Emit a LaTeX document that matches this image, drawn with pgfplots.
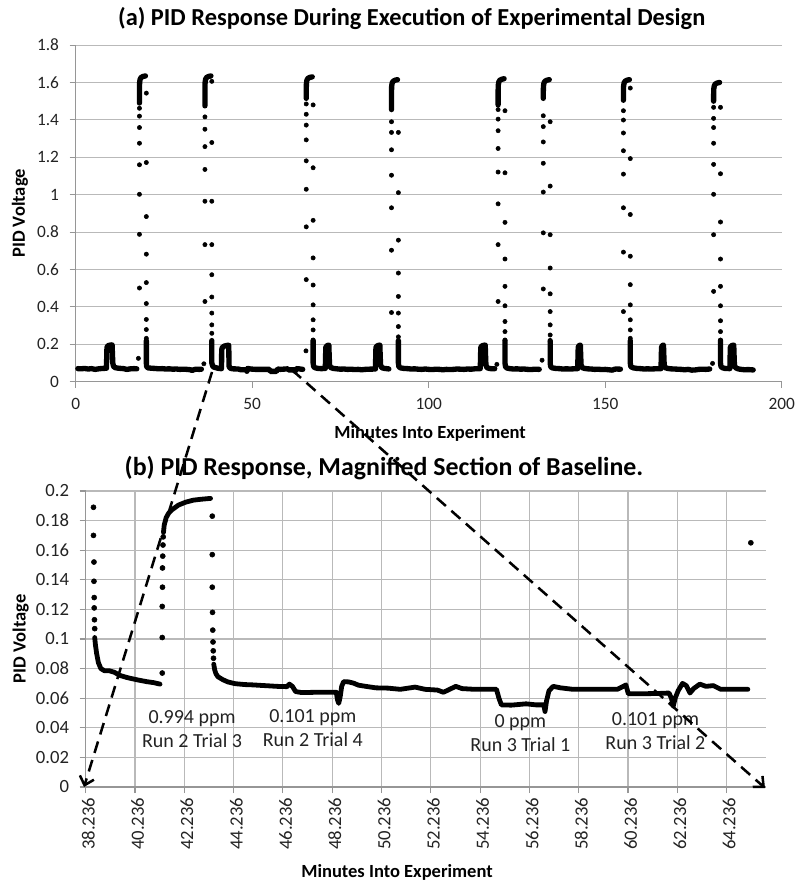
\documentclass[border=0pt]{standalone}
\usepackage{fontspec}
\setmainfont{Carlito}
\usepackage{pgfplots}
\pgfplotsset{compat=1.18}
\usetikzlibrary{arrows.meta}
\definecolor{gridgray}{RGB}{185,185,185}
\definecolor{axisgray}{RGB}{150,150,150}
\definecolor{txtgray}{RGB}{35,35,35}

\pgfplotsset{
  excel/.style={
    scale only axis, axis lines*=left,
    axis line style={-, draw=axisgray, line width=0.8pt},
    tick align=outside, major tick length=4.5pt,
    tick style={draw=axisgray, line width=0.8pt},
    grid style={draw=gridgray, line width=0.8pt},
    scaled ticks=false, clip=false,
    /pgf/number format/assume math mode=true,
    ticklabel style={text=txtgray},
    label style={font=\fontsize{13.9}{16}\selectfont\bfseries, text=black},
    title style={font=\fontsize{18.3}{21}\selectfont\bfseries, text=black},
  },
  trace/.style={black, line width=#1, line cap=round, line join=round, mark=none},
  dots/.style={black, only marks, mark=*, mark size=#1},
}

\begin{document}
\begin{tikzpicture}
\useasboundingbox (0,0) rectangle (600.75pt,666pt);

% ---------- (a) full run ----------
\begin{axis}[excel,
  width=529.5pt, height=252.5pt,
  at={(56.8pt,379.7pt)}, anchor=south west,
  xmin=0, xmax=200, ymin=0, ymax=1.8,
  xtick={0,50,100,150,200},
  ytick={0,0.2,0.4,0.6,0.8,1,1.2,1.4,1.6,1.8},
  ymajorgrids,
  ticklabel style={font=\fontsize{13}{15}\selectfont},
  xticklabel style={yshift=-4.5pt},
  yticklabel style={xshift=-4.5pt, /pgf/number format/fixed, /pgf/number format/precision=1},
  title={(a) PID Response During Execution of Experimental Design},
  title style={at={(axis description cs:0.476,1.056)}, anchor=center},
  xlabel={Minutes Into Experiment},
  xlabel style={at={(axis description cs:0.502,-0.155)}, anchor=center},
  ylabel={PID Voltage},
  ylabel style={at={(axis description cs:-0.079,0.5)}, anchor=center},
]
% baseline segments
\addplot[trace=4pt] coordinates {(0.6,0.070) (1.5,0.069) (2.5,0.071) (3.5,0.068) (4.5,0.070) (5.5,0.066) (6.5,0.069) (7.5,0.071) (8.7,0.072) (8.8,0.15) (8.85,0.185) (9.2,0.193) (9.8,0.196) (10.3,0.197) (10.4,0.15) (10.5,0.10) (10.7,0.082) (11.2,0.075) (12.2,0.072) (13.5,0.070) (14.5,0.066) (15.5,0.069) (16.5,0.070) (17.3,0.069)};
\addplot[trace=4pt] coordinates {(20.0,0.22) (20.0,0.10) (20.1,0.08) (20.5,0.074) (21.5,0.072) (22.5,0.071) (23.5,0.069) (24.5,0.070) (25.5,0.068) (26.5,0.069) (27.5,0.067) (28.5,0.068) (29.5,0.066) (30.5,0.067) (31.5,0.066) (32.5,0.064) (33.0,0.060) (33.4,0.064) (34.0,0.067) (35.0,0.066) (35.6,0.067)};
\addplot[trace=4pt] coordinates {(38.55,0.22) (38.55,0.10) (38.7,0.09) (38.9,0.08) (39.5,0.076) (40.3,0.072) (41.3,0.0695) (41.35,0.17) (41.5,0.182) (42.0,0.19) (42.8,0.194) (43.35,0.195) (43.4,0.12) (43.45,0.08) (43.8,0.072) (44.5,0.069) (46.0,0.068) (46.8,0.064) (48.4,0.064) (48.5,0.056) (48.7,0.071) (49.5,0.068) (51,0.066) (53,0.066) (54.9,0.066) (55.1,0.0555) (56.85,0.0555) (57.2,0.068) (58,0.066) (60.1,0.069) (60.3,0.063) (61.9,0.0635) (62.1,0.0545) (62.45,0.070) (63.2,0.069) (64.3,0.066)};
\addplot[trace=4pt] coordinates {(67.25,0.22) (67.25,0.10) (67.4,0.08) (67.9,0.074) (68.7,0.071) (69.6,0.070) (70.7,0.071) (70.8,0.15) (70.85,0.185) (71.2,0.193) (71.7,0.196) (71.8,0.14) (71.9,0.09) (72.2,0.076) (73,0.071) (74,0.069) (75,0.067) (76,0.068) (77,0.066) (78,0.067) (79,0.065) (80,0.066) (81,0.064) (82,0.066) (83,0.067) (84.9,0.068) (85.0,0.15) (85.05,0.185) (85.5,0.193) (86.15,0.196) (86.25,0.14) (86.35,0.09) (86.7,0.075) (87.5,0.071) (88.5,0.069) (88.7,0.068)};
\addplot[trace=4pt] coordinates {(91.4,0.22) (91.4,0.10) (91.55,0.08) (92,0.074) (93,0.071) (94,0.070) (95,0.068) (96,0.069) (97,0.067) (98,0.066) (99,0.068) (100,0.066) (101,0.065) (102,0.067) (103,0.066) (104,0.064) (105,0.066) (106,0.065) (107,0.066) (108,0.068) (109,0.067) (110,0.066) (111,0.068) (112,0.067) (113,0.069) (114.6,0.070) (114.7,0.15) (114.75,0.185) (115.2,0.193) (116.0,0.196) (116.1,0.14) (116.2,0.09) (116.5,0.075) (117.2,0.071) (118,0.069) (118.7,0.070)};
\addplot[trace=4pt] coordinates {(121.6,0.22) (121.6,0.10) (121.75,0.08) (122.2,0.073) (123,0.070) (124,0.068) (125,0.069) (126,0.067) (127,0.068) (128,0.066) (129,0.065) (130,0.067) (131.3,0.066)};
\addplot[trace=4pt] coordinates {(134.4,0.22) (134.4,0.10) (134.55,0.08) (135,0.074) (136,0.071) (137,0.070) (138,0.068) (139,0.069) (140,0.068) (141,0.069) (142.2,0.070) (142.3,0.15) (142.35,0.185) (142.6,0.193) (142.95,0.196) (143.05,0.14) (143.15,0.09) (143.5,0.075) (144.2,0.071) (145,0.069) (146,0.068) (147,0.066) (148,0.067) (149,0.065) (150,0.066) (151,0.064) (152,0.062) (152.5,0.066) (153,0.068) (154.3,0.067)};
\addplot[trace=4pt] coordinates {(157.1,0.22) (157.1,0.10) (157.25,0.08) (158,0.074) (159,0.071) (160,0.070) (161,0.068) (162,0.069) (163,0.068) (164,0.069) (165.8,0.070) (165.9,0.15) (165.95,0.185) (166.2,0.193) (166.5,0.196) (166.6,0.14) (166.7,0.09) (167,0.075) (167.7,0.071) (168.5,0.069) (169.5,0.068) (170.5,0.067) (171.5,0.066) (172.5,0.064) (173.5,0.066) (174.5,0.062) (175.5,0.063) (176.5,0.066) (177.5,0.067) (178.5,0.066) (179.6,0.068)};
\addplot[trace=4pt] coordinates {(182.65,0.22) (182.65,0.10) (182.8,0.08) (183.3,0.074) (184,0.071) (185.3,0.070) (185.4,0.15) (185.45,0.185) (185.8,0.193) (186.4,0.196) (186.5,0.14) (186.6,0.09) (186.9,0.075) (187.6,0.069) (188.5,0.066) (189.5,0.064) (190.5,0.065) (191.9,0.063)};
% peak plateaus
\addplot[trace=4pt] coordinates {(18.05,1.49) (18.05,1.565) (18.1,1.6) (18.25,1.618) (18.55,1.627) (19.05,1.632) (19.75,1.635)};
\addplot[trace=4pt] coordinates {(36.6,1.475) (36.6,1.565) (36.65,1.6) (36.8,1.618) (37.1,1.627) (37.6,1.632) (38.3,1.635)};
\addplot[trace=4pt] coordinates {(65.3,1.515) (65.3,1.56) (65.35,1.595) (65.5,1.613) (65.8,1.622) (66.3,1.627) (67.0,1.63)};
\addplot[trace=4pt] coordinates {(89.45,1.455) (89.45,1.545) (89.5,1.58) (89.65,1.598) (89.95,1.607) (90.45,1.612) (91.15,1.615)};
\addplot[trace=4pt] coordinates {(119.65,1.48) (119.65,1.55) (119.7,1.585) (119.85,1.603) (120.15,1.612) (120.65,1.617) (121.35,1.62)};
\addplot[trace=4pt] coordinates {(132.45,1.515) (132.45,1.545) (132.5,1.58) (132.65,1.598) (132.95,1.607) (133.45,1.612) (134.15,1.615)};
\addplot[trace=4pt] coordinates {(155.15,1.505) (155.15,1.545) (155.2,1.58) (155.35,1.598) (155.65,1.607) (156.15,1.612) (156.85,1.615)};
\addplot[trace=4pt] coordinates {(180.7,1.5) (180.7,1.53) (180.75,1.565) (180.9,1.583) (181.2,1.592) (181.7,1.597) (182.4,1.6)};
% rise and decay samples
\addplot[dots=1.6pt] coordinates {
 (17.75,0.125) (18.05,0.501) (18.05,0.788) (18.05,1.002) (18.05,1.160) (18.05,1.275) (18.05,1.359) (18.05,1.420) (18.05,1.462)
 (20.0,1.543) (20.0,1.172) (20.0,0.883) (20.0,0.682) (20.0,0.530) (20.0,0.418) (20.0,0.333) (20.0,0.279) (20.0,0.232)
 (36.3,0.096) (36.6,0.429) (36.6,0.733) (36.6,0.965) (36.6,1.135) (36.6,1.257) (36.6,1.35) (36.6,1.416)
 (38.55,1.606) (38.55,1.279) (38.55,0.965) (38.55,0.733) (38.55,0.572) (38.55,0.453) (38.55,0.367) (38.55,0.304) (38.55,0.259)
 (65.22,0.165) (65.3,0.546) (65.3,0.828) (65.3,1.029) (65.3,1.181) (65.3,1.293) (65.3,1.372) (65.3,1.43) (65.3,1.485)
 (67.25,1.48) (67.25,1.144) (67.25,0.863) (67.25,0.662) (67.25,0.517) (67.25,0.411) (67.25,0.331) (67.25,0.277) (67.25,0.223)
 (89.45,0.37) (89.45,0.703) (89.45,0.93) (89.45,1.104) (89.45,1.24) (89.45,1.333) (89.45,1.39)
 (91.4,1.333) (91.4,1.011) (91.4,0.757) (91.4,0.581) (91.4,0.456) (91.4,0.367) (91.4,0.295) (91.4,0.24)
 (119.3,0.093) (119.65,0.429) (119.65,0.733) (119.65,0.951) (119.65,1.121) (119.65,1.247) (119.65,1.342) (119.65,1.404) (119.65,1.455)
 (121.6,1.449) (121.6,1.117) (121.6,0.852) (121.6,0.656) (121.6,0.51) (121.6,0.406) (121.6,0.322) (121.6,0.268) (121.6,0.223)
 (132.1,0.115) (132.45,0.496) (132.45,0.796) (132.45,1.014) (132.45,1.168) (132.45,1.282) (132.45,1.364) (132.45,1.422)
 (134.4,1.39) (134.4,1.046) (134.4,0.786) (134.4,0.608) (134.4,0.47) (134.4,0.375) (134.4,0.304) (134.4,0.25) (134.4,0.214)
 (155.15,0.375) (155.15,0.693) (155.15,0.93) (155.15,1.11) (155.15,1.235) (155.15,1.33) (155.15,1.399) (155.15,1.449)
 (157.1,1.57) (157.1,1.193) (157.1,0.894) (157.1,0.671) (157.1,0.519) (157.1,0.411) (157.1,0.331) (157.1,0.277) (157.1,0.232)
 (180.4,0.098) (180.7,0.483) (180.7,0.786) (180.7,1.002) (180.7,1.162) (180.7,1.275) (180.7,1.359) (180.7,1.408) (180.7,1.467)
 (182.65,1.467) (182.65,1.112) (182.65,0.854) (182.65,0.656) (182.65,0.51) (182.65,0.406) (182.65,0.326) (182.65,0.268) (182.65,0.223)
};
\end{axis}

% ---------- (b) magnified baseline ----------
\begin{axis}[excel,
  width=510.2pt, height=222pt,
  at={(64.3pt,75.75pt)}, anchor=south west,
  xmin=38.236, xmax=65.836, ymin=0, ymax=0.2,
  xtick={38.236,40.236,42.236,44.236,46.236,48.236,50.236,52.236,54.236,56.236,58.236,60.236,62.236,64.236},
  xticklabels={38.236,40.236,42.236,44.236,46.236,48.236,50.236,52.236,54.236,56.236,58.236,60.236,62.236,64.236},
  ytick={0,0.02,0.04,0.06,0.08,0.1,0.12,0.14,0.16,0.18,0.2},
  xmajorgrids, ymajorgrids,
  ticklabel style={font=\fontsize{14}{16}\selectfont},
  xticklabel style={rotate=90, anchor=east, yshift=-2pt},
  yticklabel style={xshift=-4.5pt, /pgf/number format/fixed, /pgf/number format/precision=2},
  title={(b) PID Response, Magnified Section of Baseline.},
  title style={at={(axis description cs:0.4385,1.051)}, anchor=center, font=\fontsize{19.4}{22}\selectfont\bfseries},
  xlabel={Minutes Into Experiment},
  xlabel style={at={(axis description cs:0.4576,-0.29)}, anchor=center},
  ylabel={PID Voltage},
  ylabel style={at={(axis description cs:-0.0955,0.5)}, anchor=center},
]
\addplot[trace=3.6pt] coordinates {(38.6,0.101) (38.63,0.096) (38.68,0.09) (38.75,0.084) (38.85,0.08) (39.0,0.0785) (39.2,0.0785) (39.4,0.0775) (39.6,0.0755) (39.9,0.074) (40.3,0.0725) (40.7,0.0712) (41.0,0.0705) (41.25,0.0695)};
\addplot[trace=3.6pt] coordinates {(41.39,0.172) (41.42,0.177) (41.5,0.182) (41.6,0.185) (41.75,0.1875) (42.0,0.1905) (42.3,0.1925) (42.6,0.1938) (42.9,0.1944) (43.3,0.195)};
\addplot[trace=3.6pt] coordinates {(43.43,0.083) (43.47,0.079) (43.52,0.0765) (43.6,0.0745) (43.8,0.0725) (44.0,0.071) (44.3,0.0698) (44.7,0.0692) (45.0,0.069) (45.5,0.0685) (46.0,0.068) (46.4,0.0678) (46.5,0.0695) (46.62,0.068) (46.75,0.0645) (47.0,0.0638) (47.6,0.064) (48.0,0.064) (48.4,0.064) (48.45,0.059) (48.5,0.0565) (48.56,0.061) (48.62,0.068) (48.7,0.0712) (48.9,0.071) (49.1,0.0702) (49.3,0.0688) (49.6,0.068) (50.0,0.067) (50.5,0.0668) (51.0,0.066) (51.6,0.0675) (52.0,0.066) (52.5,0.0655) (52.75,0.064) (53.0,0.066) (53.25,0.068) (53.5,0.0665) (54.0,0.066) (54.5,0.066) (54.9,0.066) (55.0,0.060) (55.1,0.0555) (55.5,0.0553) (56.1,0.0562) (56.5,0.0555) (56.82,0.0555) (56.87,0.051) (56.93,0.058) (57.03,0.065) (57.2,0.068) (57.5,0.067) (58.0,0.066) (59.0,0.066) (59.8,0.066) (60.05,0.068) (60.15,0.069) (60.25,0.063) (60.8,0.063) (61.5,0.0632) (61.9,0.0635) (62.0,0.060) (62.07,0.0545) (62.15,0.060) (62.27,0.065) (62.45,0.070) (62.6,0.0685) (62.75,0.0635) (62.9,0.0665) (63.15,0.0695) (63.4,0.068) (63.7,0.0685) (64.0,0.066) (64.5,0.066) (65.1,0.066)};
\addplot[dots=1.9pt] coordinates {
 (38.55,0.189) (38.55,0.17) (38.57,0.152) (38.57,0.139) (38.58,0.128) (38.58,0.121) (38.59,0.113) (38.6,0.107)
 (41.34,0.077) (41.34,0.101) (41.34,0.122) (41.35,0.135) (41.35,0.148) (41.36,0.156) (41.37,0.1635) (41.38,0.169)
 (43.37,0.183) (43.37,0.157) (43.37,0.135) (43.38,0.118) (43.39,0.106) (43.40,0.098) (43.41,0.092) (43.42,0.087)
 (65.22,0.165)
};
\begin{scope}[every node/.style={align=center, font=\fontsize{15}{18}\selectfont, text=txtgray}]
\node at (axis cs:42.55,0.0394) {0.994 ppm\\Run 2 Trial 3};
\node at (axis cs:47.45,0.0399) {0.101 ppm\\Run 2 Trial 4};
\node at (axis cs:55.87,0.0366) {0 ppm\\Run 3 Trial 1};
\node at (axis cs:61.35,0.0376) {0.101 ppm\\Run 3 Trial 2};
\end{scope}
\end{axis}

% zoom arrows
\draw[black, line width=1.9pt, dash pattern=on 9pt off 5.5pt, -{Straight Barb[length=6pt,width=11pt]}] (159pt,387pt) -- (63pt,75.75pt);
\draw[black, line width=1.9pt, dash pattern=on 9pt off 5.5pt, -{Straight Barb[length=6pt,width=11pt]}] (219pt,388.5pt) -- (573.75pt,75pt);
\end{tikzpicture}
\end{document}
